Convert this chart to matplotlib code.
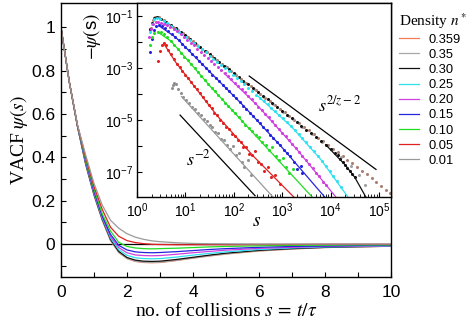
import numpy as np
import matplotlib
matplotlib.use('Agg')
import matplotlib.pyplot as plt

plt.rcParams['font.family'] = 'Liberation Sans'
plt.rcParams['mathtext.fontset'] = 'stix'

# --- data ---
densities = ['0.359', '0.35', '0.30', '0.25', '0.20', '0.15', '0.10', '0.05', '0.01']
colors = ['#f07c50', '#a8a8a8', '#111111', '#2ee0f0', '#d040e0',
          '#2424dc', '#22dc22', '#e02020', '#9a9a9a']
dot_colors = ['#ad7e70', '#a0a0a0', '#111111', '#2ee0f0', '#d040e0',
              '#2424dc', '#22dc22', '#e02020', '#909090']

# VACF psi(s) against number of collisions s
s_main = [0, 0.25, 0.5, 0.75, 1.0, 1.25, 1.5, 1.75, 2.0, 2.25, 2.5, 2.75,
          3.0, 3.5, 4.0, 4.5, 5.0, 6.0, 7.0, 8.0, 9.0, 10.0]
vacf_0359 = [1, 0.75, 0.542, 0.365, 0.225, 0.11, 0.017, -0.039, -0.067, -0.08, -0.085, -0.086,
             -0.085, -0.076, -0.065, -0.055, -0.046, -0.032, -0.023, -0.016, -0.013, -0.01]
vacf_035 = [1, 0.75, 0.542, 0.366, 0.226, 0.111, 0.018, -0.038, -0.066, -0.079, -0.084, -0.085,
            -0.084, -0.075, -0.064, -0.054, -0.045, -0.031, -0.022, -0.016, -0.012, -0.01]
vacf_030 = [1, 0.75, 0.543, 0.37, 0.23, 0.115, 0.022, -0.034, -0.062, -0.074, -0.079, -0.08,
            -0.079, -0.071, -0.061, -0.051, -0.042, -0.029, -0.021, -0.015, -0.012, -0.01]
vacf_025 = [1, 0.75, 0.544, 0.375, 0.235, 0.12, 0.028, -0.026, -0.052, -0.063, -0.067, -0.068,
            -0.067, -0.06, -0.051, -0.043, -0.036, -0.025, -0.018, -0.013, -0.011, -0.009]
vacf_020 = [1, 0.75, 0.545, 0.38, 0.24, 0.125, 0.035, -0.016, -0.04, -0.05, -0.053, -0.054,
            -0.053, -0.047, -0.04, -0.034, -0.028, -0.02, -0.015, -0.011, -0.009, -0.008]
vacf_015 = [1, 0.75, 0.546, 0.385, 0.245, 0.13, 0.045, -0.006, -0.027, -0.036, -0.039, -0.04,
            -0.039, -0.035, -0.03, -0.025, -0.021, -0.015, -0.011, -0.009, -0.007, -0.006]
vacf_010 = [1, 0.75, 0.547, 0.39, 0.255, 0.14, 0.06, 0.008, -0.011, -0.018, -0.021, -0.022,
            -0.021, -0.019, -0.016, -0.013, -0.011, -0.008, -0.006, -0.005, -0.004, -0.004]
vacf_005 = [1, 0.75, 0.548, 0.40, 0.265, 0.16, 0.078, 0.036, 0.016, 0.007, 0.002, -0.001,
            -0.002, -0.003, -0.003, -0.003, -0.003, -0.002, -0.002, -0.001, -0.001, -0.001]
vacf_001 = [1, 0.75, 0.55, 0.41, 0.28, 0.18, 0.11, 0.073, 0.048, 0.032, 0.022, 0.015,
            0.011, 0.006, 0.003, 0.0015, 0.001, 0.0, 0.0, 0.0, 0.0, 0.0]

# long-time tails -psi(s), as (log10 s, log10 -psi) pairs
tail_0359 = [(0.28, -1.45), (0.33, -1.15), (0.38, -1.04), (0.45, -1.05), (0.55, -1.16), (0.65, -1.29),
             (0.75, -1.42), (0.85, -1.55), (0.95, -1.67), (1.05, -1.81), (1.15, -1.96), (1.25, -2.11),
             (1.35, -2.25), (1.45, -2.40), (1.55, -2.54), (1.65, -2.69), (1.75, -2.83), (1.85, -2.98),
             (1.95, -3.12), (2.05, -3.27), (2.15, -3.41), (2.25, -3.56), (2.35, -3.70), (2.45, -3.85),
             (2.55, -3.99), (2.65, -4.14), (2.75, -4.28), (2.85, -4.43), (2.95, -4.57), (3.05, -4.71),
             (3.15, -4.85), (3.25, -4.99), (3.35, -5.13), (3.45, -5.27), (3.55, -5.40), (3.65, -5.54),
             (3.75, -5.68), (3.85, -5.82), (3.95, -5.96), (4.05, -6.10), (4.15, -6.24), (4.25, -6.38),
             (4.35, -6.52), (4.45, -6.66), (4.55, -6.80), (4.65, -6.95), (4.75, -7.09), (4.85, -7.24),
             (4.95, -7.39), (5.05, -7.54), (5.15, -7.70), (5.22, -7.82)]
tail_035 = [(0.26, -1.55), (0.42, -1.02), (0.62, -1.25), (0.82, -1.50), (1.02, -1.78), (1.22, -2.07),
            (1.42, -2.36), (1.62, -2.65), (1.82, -2.94), (2.02, -3.23), (2.22, -3.52), (2.42, -3.81),
            (2.62, -4.10), (2.82, -4.39), (3.02, -4.68), (3.22, -4.96), (3.42, -5.25), (3.62, -5.54),
            (3.82, -5.83), (4.02, -6.12), (4.22, -6.42), (4.42, -6.75), (4.58, -7.10), (4.72, -7.50)]
tail_030 = [(0.27, -1.50), (0.30, -1.25), (0.36, -1.08), (0.41, -1.03), (0.50, -1.10), (0.60, -1.23),
            (0.70, -1.36), (0.80, -1.48), (0.90, -1.61), (1.00, -1.74), (1.10, -1.89), (1.20, -2.04),
            (1.30, -2.18), (1.40, -2.33), (1.50, -2.47), (1.60, -2.62), (1.70, -2.76), (1.80, -2.91),
            (1.90, -3.05), (2.00, -3.20), (2.10, -3.34), (2.20, -3.49), (2.30, -3.63), (2.40, -3.78),
            (2.50, -3.92), (2.60, -4.07), (2.70, -4.21), (2.80, -4.36), (2.90, -4.50), (3.00, -4.65),
            (3.10, -4.79), (3.20, -4.93), (3.30, -5.08), (3.40, -5.22), (3.50, -5.37), (3.60, -5.51),
            (3.70, -5.65), (3.80, -5.80), (3.90, -5.95), (4.00, -6.10), (4.10, -6.27), (4.15, -6.36),
            (4.20, -6.48), (4.25, -6.60), (4.30, -6.72), (4.35, -6.84), (4.40, -6.95), (4.45, -7.07),
            (4.50, -7.20)]
tail_025 = [(0.27, -1.60), (0.30, -1.30), (0.35, -1.13), (0.41, -1.07), (0.48, -1.10), (0.55, -1.18),
            (0.62, -1.27), (0.70, -1.38), (0.78, -1.49), (0.86, -1.60), (0.94, -1.70), (1.02, -1.81),
            (1.10, -1.93), (1.18, -2.04), (1.26, -2.16), (1.34, -2.28), (1.42, -2.40), (1.50, -2.52),
            (1.58, -2.64), (1.66, -2.76), (1.74, -2.88), (1.82, -3.00), (1.90, -3.13), (1.98, -3.25),
            (2.06, -3.38), (2.14, -3.50), (2.22, -3.63), (2.30, -3.76), (2.38, -3.89), (2.46, -4.02),
            (2.54, -4.14), (2.62, -4.27), (2.70, -4.40), (2.78, -4.53), (2.86, -4.66), (2.94, -4.80),
            (3.02, -4.94), (3.10, -5.08), (3.18, -5.23), (3.26, -5.38), (3.34, -5.54), (3.42, -5.70),
            (3.50, -5.86), (3.58, -6.03), (3.66, -6.20), (3.74, -6.38), (3.82, -6.56), (3.90, -6.75),
            (3.98, -6.95), (4.06, -7.15), (4.14, -7.36), (4.22, -7.58)]
tail_020 = [(0.25, -1.80), (0.29, -1.50), (0.34, -1.30), (0.39, -1.23), (0.44, -1.22), (0.50, -1.25),
            (0.56, -1.29), (0.62, -1.34), (0.69, -1.43), (0.76, -1.51), (0.83, -1.59), (0.90, -1.69),
            (0.97, -1.80), (1.04, -1.91), (1.11, -2.02), (1.18, -2.13), (1.25, -2.25), (1.32, -2.37),
            (1.39, -2.49), (1.46, -2.61), (1.53, -2.73), (1.60, -2.85), (1.67, -2.96), (1.74, -3.08),
            (1.81, -3.20), (1.88, -3.32), (1.95, -3.44), (2.02, -3.56), (2.09, -3.68), (2.16, -3.80),
            (2.23, -3.93), (2.30, -4.06), (2.37, -4.20), (2.44, -4.34), (2.51, -4.48), (2.58, -4.62),
            (2.65, -4.76), (2.72, -4.90), (2.79, -5.05), (2.86, -5.18), (2.93, -5.34), (3.00, -5.48),
            (3.07, -5.62), (3.14, -5.78), (3.21, -5.92), (3.28, -6.08), (3.35, -6.22), (3.42, -6.40),
            (3.49, -6.52), (3.56, -6.70), (3.63, -6.85), (3.70, -7.05), (3.77, -7.15), (3.84, -7.38),
            (3.91, -7.50)]
tail_015 = [(0.27, -2.37), (0.30, -1.90), (0.35, -1.52), (0.40, -1.38), (0.45, -1.35), (0.52, -1.40),
            (0.58, -1.47), (0.65, -1.58), (0.72, -1.69), (0.79, -1.80), (0.86, -1.93), (0.93, -2.06),
            (1.00, -2.19), (1.07, -2.32), (1.14, -2.46), (1.21, -2.59), (1.28, -2.72), (1.35, -2.85),
            (1.42, -2.99), (1.49, -3.12), (1.56, -3.25), (1.63, -3.38), (1.70, -3.51), (1.77, -3.64),
            (1.84, -3.77), (1.91, -3.90), (1.98, -4.03), (2.05, -4.17), (2.12, -4.30), (2.19, -4.45),
            (2.26, -4.58), (2.33, -4.72), (2.40, -4.85), (2.47, -5.00), (2.54, -5.12), (2.61, -5.28),
            (2.68, -5.40), (2.75, -5.58), (2.82, -5.68), (2.89, -5.85), (2.96, -5.95), (3.03, -6.15),
            (3.10, -6.25), (3.17, -6.40), (3.24, -6.62), (3.31, -6.90), (3.38, -6.75), (3.42, -7.05)]
tail_010 = [(0.27, -2.12), (0.31, -1.80), (0.36, -1.66), (0.43, -1.60), (0.50, -1.63), (0.56, -1.70),
            (0.63, -1.82), (0.70, -1.95), (0.77, -2.10), (0.84, -2.25), (0.91, -2.41), (0.98, -2.56),
            (1.05, -2.71), (1.12, -2.86), (1.19, -3.01), (1.26, -3.16), (1.33, -3.31), (1.40, -3.46),
            (1.47, -3.61), (1.54, -3.76), (1.61, -3.90), (1.68, -4.05), (1.75, -4.18), (1.82, -4.33),
            (1.89, -4.46), (1.96, -4.62), (2.03, -4.74), (2.10, -4.90), (2.17, -5.02), (2.24, -5.18),
            (2.31, -5.30), (2.38, -5.44), (2.45, -5.58), (2.52, -5.65), (2.59, -5.85), (2.66, -5.95),
            (2.73, -6.15), (2.80, -6.05), (2.87, -6.40), (2.94, -6.55), (3.01, -6.45), (3.08, -6.80),
            (3.15, -7.05), (3.22, -6.90)]
tail_005 = [(0.43, -2.72), (0.47, -2.35), (0.51, -2.12), (0.55, -2.03), (0.60, -2.10), (0.65, -2.30),
            (0.70, -2.45), (0.76, -2.66), (0.82, -2.83), (0.88, -2.97), (0.94, -3.12), (1.00, -3.25),
            (1.06, -3.40), (1.12, -3.55), (1.18, -3.70), (1.24, -3.82), (1.30, -3.97), (1.36, -4.12),
            (1.42, -4.25), (1.48, -4.42), (1.54, -4.55), (1.60, -4.72), (1.66, -4.82), (1.72, -5.00),
            (1.78, -5.10), (1.84, -5.25), (1.90, -5.35), (1.96, -5.52), (2.02, -5.60), (2.08, -5.78),
            (2.14, -5.85), (2.20, -6.02), (2.26, -6.05), (2.32, -6.30), (2.38, -6.35), (2.44, -6.20),
            (2.50, -6.62), (2.56, -6.70), (2.62, -6.95), (2.70, -6.80), (2.78, -7.20), (2.86, -7.10),
            (2.95, -7.45)]
tail_001 = [(0.72, -3.78), (0.74, -3.64), (0.77, -3.58), (0.81, -3.62), (0.85, -3.80), (0.90, -3.98),
            (0.96, -4.10), (1.02, -4.24), (1.08, -4.33), (1.14, -4.50), (1.20, -4.58), (1.26, -4.72),
            (1.32, -4.80), (1.38, -4.97), (1.44, -5.05), (1.50, -5.20), (1.56, -5.28), (1.62, -5.45),
            (1.68, -5.50), (1.74, -5.72), (1.80, -5.75), (1.86, -5.95), (1.92, -6.10), (1.98, -5.98),
            (2.04, -6.35), (2.10, -6.25), (2.16, -6.62), (2.22, -6.80), (2.30, -6.55), (2.36, -7.10)]

# smooth simulation curves through the tails (log10 s, log10 -psi)
fit_030 = [(3.90, -5.95), (4.30, -6.72), (4.50, -7.20), (4.73, -7.96)]
fit_025 = [(2.50, -4.08), (3.20, -5.27), (3.80, -6.52), (4.36, -7.96)]
fit_020 = [(1.80, -3.20), (2.50, -4.46), (3.30, -6.12), (4.11, -7.96)]
fit_015 = [(0.45, -1.37), (0.80, -1.82), (1.40, -2.95), (2.20, -4.45), (3.00, -6.06), (3.88, -7.96)]
fit_010 = [(0.43, -1.62), (0.70, -1.96), (1.00, -2.60), (1.54, -3.76), (3.62, -7.96)]
fit_005 = [(0.55, -2.05), (0.80, -2.78), (1.00, -3.26), (1.30, -3.98), (1.65, -4.82), (2.40, -6.38), (3.24, -7.96)]
fit_001 = [(0.92, -4.10), (2.81, -7.96)]

# power-law guide lines
guide_s2 = [(0.89, -4.81), (2.44, -7.91)]
guide_sz = [(2.32, -3.31), (4.94, -6.90)]

vacf_all = [vacf_0359, vacf_035, vacf_030, vacf_025, vacf_020, vacf_015, vacf_010, vacf_005, vacf_001]
tails = [tail_0359, tail_035, tail_030, tail_025, tail_020, tail_015, tail_010, tail_005, tail_001]
fits = [None, None, fit_030, fit_025, fit_020, fit_015, fit_010, fit_005, fit_001]


def unlog(pairs):
    a = np.array(pairs)
    return 10 ** a[:, 0], 10 ** a[:, 1]


# --- plot ---
fig = plt.figure(figsize=(4.74, 3.23), dpi=100)
W, H = 474, 323
ax = fig.add_axes([61 / W, 1 - 277 / H, 330 / W, 274 / H])

handles = []
for v, c, d in zip(vacf_all, colors, densities):
    h, = ax.plot(s_main, v, color=c, lw=0.9, label=d)
    handles.append(h)
ax.axhline(0, color='black', lw=0.9, zorder=1)

ax.set_xlim(0, 10)
ax.set_ylim(-0.152, 1.113)
ax.set_xticks([0, 2, 4, 6, 8, 10])
ax.set_xticks(np.arange(1, 10, 2), minor=True)
ax.set_yticks([0, 0.2, 0.4, 0.6, 0.8, 1.0])
ax.set_yticklabels(['0', '0.2', '0.4', '0.6', '0.8', '1'])
ax.set_yticks([-0.1, 0.1, 0.3, 0.5, 0.7, 0.9], minor=True)
ax.tick_params(which='both', direction='in', length=3.5, width=0.8, labelsize=12.5)
ax.tick_params(axis='x', pad=6)
ax.tick_params(axis='y', pad=4)
for sp in ax.spines.values():
    sp.set_linewidth(1.0)
ax.set_xlabel(r'no. of collisions $s\,=\,t/\tau$', family='Liberation Serif', fontsize=14, labelpad=1)
ax.set_ylabel(r'VACF $\psi(s)$', family='Liberation Serif', fontsize=14, labelpad=1)

# inset: log-log tails
ax_in = fig.add_axes([137 / W, 1 - 197 / H, 254 / W, 194 / H])
for pts, fit, c, dc in zip(tails, fits, colors, dot_colors):
    xs, ys = unlog(pts)
    ax_in.plot(xs, ys, 'o', ms=2.2, mew=0, color=dc)
    if fit is not None:
        fx, fy = unlog(fit)
        ax_in.plot(fx, fy, '-', lw=0.9, color=c)

gx, gy = unlog(guide_s2)
ax_in.plot(gx, gy, color='black', lw=0.9)
gx, gy = unlog(guide_sz)
ax_in.plot(gx, gy, color='black', lw=0.9)
ax_in.text(10 ** 1.26, 10 ** -6.5, r'$s^{-2}$', fontsize=13, ha='center', va='center')
ax_in.text(10 ** 4.19, 10 ** -4.45, r'$s^{2/z-2}$', fontsize=13, ha='center', va='center')

ax_in.set_xscale('log')
ax_in.set_yscale('log')
ax_in.set_xlim(1, 10 ** 5.25)
ax_in.set_ylim(10 ** -7.96, 10 ** -0.5)
xt = [10.0 ** k for k in range(0, 6)]
ax_in.set_xticks(xt)
ax_in.set_xticklabels([r'$\mathregular{10^{%d}}$' % k for k in range(0, 6)])
ax_in.xaxis.set_minor_locator(matplotlib.ticker.LogLocator(base=10, subs=np.arange(2, 10), numticks=20))
ax_in.xaxis.set_minor_formatter(matplotlib.ticker.NullFormatter())
yt = [10.0 ** -k for k in range(1, 8)]
ax_in.set_yticks(yt)
ax_in.set_yticklabels([r'$\mathregular{10^{-%d}}$' % k if k % 2 else '' for k in range(1, 8)])
ax_in.yaxis.set_minor_locator(matplotlib.ticker.NullLocator())
ax_in.tick_params(which='major', direction='in', length=3.5, width=0.8, labelsize=10, pad=3)
ax_in.tick_params(which='minor', direction='in', length=2, width=0.6)
for sp in ax_in.spines.values():
    sp.set_linewidth(1.0)
ax_in.set_ylabel(r'$-\psi(\mathregular{s})$', fontsize=13.5)
ax_in.yaxis.set_label_coords(-0.135, 0.825)
ax_in.set_xlabel(r'$s$', fontsize=14)
ax_in.xaxis.set_label_coords(0.472, -0.085)

leg = fig.legend(handles, densities, loc='upper left', bbox_to_anchor=(398 / W, 1 - 10 / H),
                 frameon=False, fontsize=9.3, handlelength=1.5, handletextpad=0.75,
                 labelspacing=0.24, borderaxespad=0, borderpad=0.1,
                 title=r'Density $n^*$', title_fontproperties={'family': 'Liberation Serif', 'size': 11})
leg._legend_box.align = 'left'
leg._legend_box.sep = 2

fig.savefig('out.png', dpi=100)
